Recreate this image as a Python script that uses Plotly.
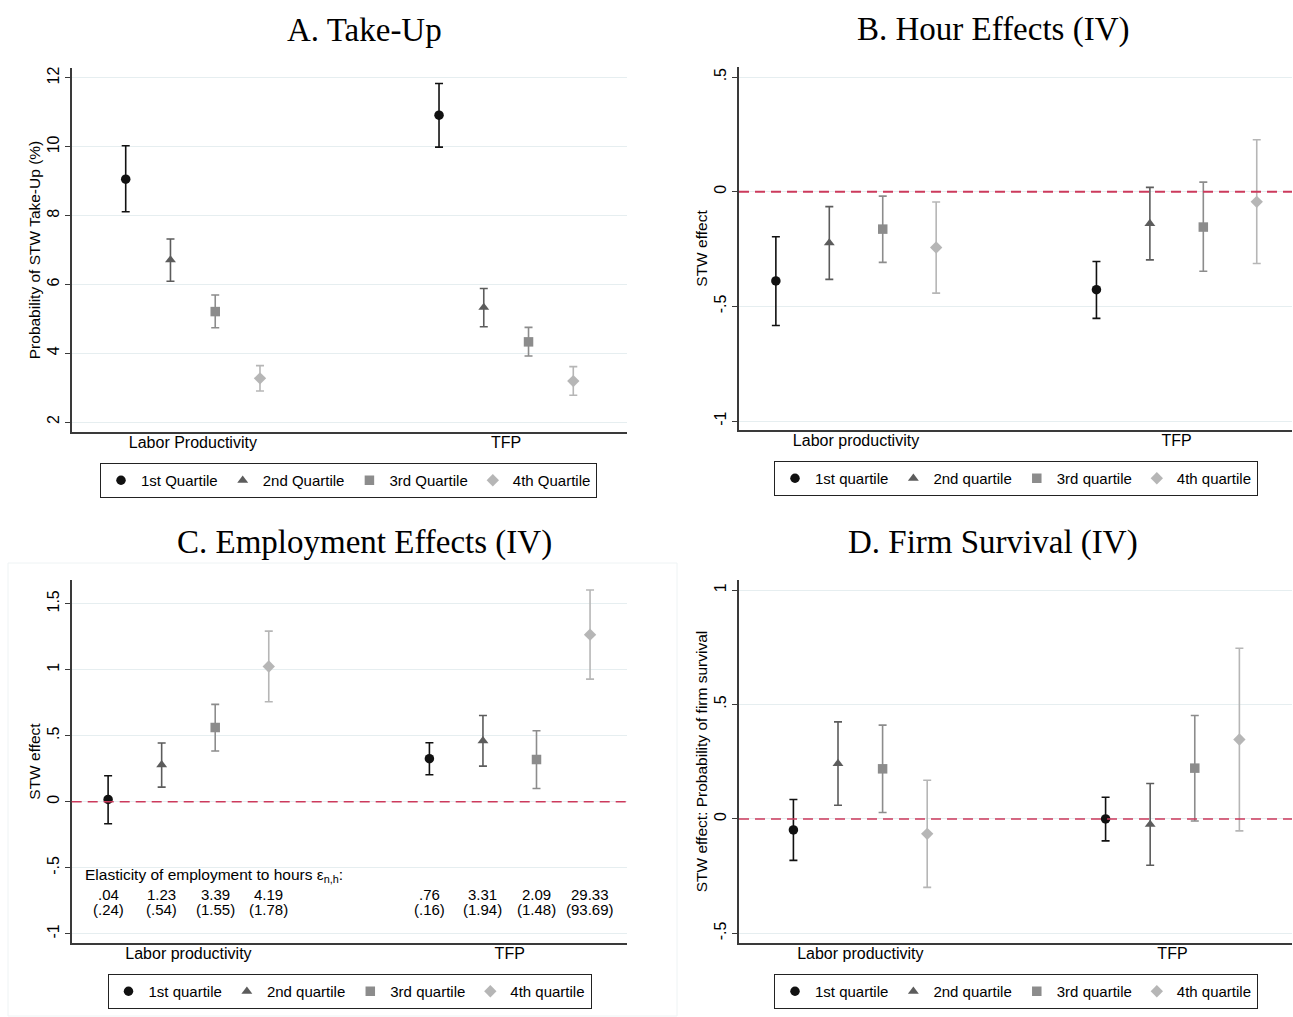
import plotly.graph_objects as go

W, H = 1293, 1017

# ---------------- data ----------------
groups = ["Labor Productivity", "TFP"]
quart_names_cap = ["1st Quartile", "2nd Quartile", "3rd Quartile", "4th Quartile"]
quart_names = ["1st quartile", "2nd quartile", "3rd quartile", "4th quartile"]

# Panel A: Take-Up (%)
a_lp = [9.06, 6.71, 5.21, 3.27]
a_lp_hi = [10.03, 7.32, 5.69, 3.64]
a_lp_lo = [8.11, 6.09, 4.74, 2.90]
a_tfp = [10.92, 5.33, 4.33, 3.19]
a_tfp_hi = [11.84, 5.88, 4.75, 3.61]
a_tfp_lo = [9.99, 4.77, 3.92, 2.78]

# Panel B: Hour effects (IV)
b_lp = [-0.389, -0.223, -0.163, -0.243]
b_lp_hi = [-0.196, -0.065, -0.019, -0.045]
b_lp_lo = [-0.583, -0.382, -0.308, -0.442]
b_tfp = [-0.427, -0.139, -0.154, -0.044]
b_tfp_hi = [-0.304, 0.019, 0.042, 0.227]
b_tfp_lo = [-0.552, -0.297, -0.347, -0.313]

# Panel C: Employment effects (IV)
c_lp = [0.018, 0.280, 0.562, 1.025]
c_lp_hi = [0.197, 0.445, 0.738, 1.293]
c_lp_lo = [-0.167, 0.111, 0.384, 0.758]
c_tfp = [0.326, 0.462, 0.320, 1.266]
c_tfp_hi = [0.447, 0.654, 0.538, 1.604]
c_tfp_lo = [0.205, 0.270, 0.101, 0.929]
elast_lp = [".04", "1.23", "3.39", "4.19"]
elast_lp_se = ["(.24)", "(.54)", "(1.55)", "(1.78)"]
elast_tfp = [".76", "3.31", "2.09", "29.33"]
elast_tfp_se = ["(.16)", "(1.94)", "(1.48)", "(93.69)"]

# Panel D: Firm survival (IV)
d_lp = [-0.048, 0.242, 0.219, -0.065]
d_lp_hi = [0.085, 0.424, 0.410, 0.169]
d_lp_lo = [-0.181, 0.060, 0.028, -0.299]
d_tfp = [0.000, -0.024, 0.222, 0.347]
d_tfp_hi = [0.095, 0.155, 0.452, 0.746]
d_tfp_lo = [-0.096, -0.202, -0.009, -0.052]

# ---------------- style ----------------
symbols = ["circle", "triangle-up", "square", "diamond"]
colors = ["#111111", "#5c5c5c", "#8c8c8c", "#b6b6b6"]
SANS = "Liberation Sans, Arial, Helvetica, sans-serif"
SERIF = "Liberation Serif, Times New Roman, serif"
GRID = "#e6eef0"
AXIS = "#3a3a3a"
REF = "#cc3a5c"


def px(x):
    return x / W


def py(y):
    return 1 - y / H


panels = [
    dict(ax="", lp=(a_lp, a_lp_hi, a_lp_lo), tfp=(a_tfp, a_tfp_hi, a_tfp_lo), off=7,
         xd=(72, 627), yd=(68, 432), xr=[-0.2, 12.2], yr=[1.71, 12.29],
         tv=[2, 4, 6, 8, 10, 12], tt=["2", "4", "6", "8", "10", "12"],
         ytitle="Probability of STW Take-Up (%)", names=quart_names_cap,
         glabels=["Labor Productivity", "TFP"], ref=False, legend="legend",
         leg=(348.5, 463), title="A. Take-Up", tpos=(364, 30)),
    dict(ax="2", lp=(b_lp, b_lp_hi, b_lp_lo), tfp=(b_tfp, b_tfp_hi, b_tfp_lo), off=6,
         xd=(739, 1292), yd=(67, 430), xr=[0.31, 10.66], yr=[-1.039, 0.544],
         tv=[-1, -0.5, 0, 0.5], tt=["-1", "-.5", "0", ".5"],
         ytitle="STW effect", names=quart_names,
         glabels=["Labor productivity", "TFP"], ref=True, legend="legend2",
         leg=(1016, 461), title="B. Hour Effects (IV)", tpos=(993, 30)),
    dict(ax="3", lp=(c_lp, c_lp_hi, c_lp_lo), tfp=(c_tfp, c_tfp_hi, c_tfp_lo), off=6,
         xd=(71.7, 627), yd=(580, 943), xr=[0.32, 10.69], yr=[-1.07, 1.68],
         tv=[-1, -0.5, 0, 0.5, 1, 1.5], tt=["-1", "-.5", "0", ".5", "1", "1.5"],
         ytitle="STW effect", names=quart_names,
         glabels=["Labor productivity", "TFP"], ref=True, legend="legend3",
         leg=(349.5, 974), title="C. Employment Effects (IV)", tpos=(364, 542)),
    dict(ax="4", lp=(d_lp, d_lp_hi, d_lp_lo), tfp=(d_tfp, d_tfp_hi, d_tfp_lo), off=7,
         xd=(739, 1292), yd=(580, 943), xr=[-0.22, 12.18], yr=[-0.542, 1.044],
         tv=[-0.5, 0, 0.5, 1], tt=["-.5", "0", ".5", "1"],
         ytitle="STW effect: Probability of firm survival", names=quart_names,
         glabels=["Labor productivity", "TFP"], ref=True, legend="legend4",
         leg=(1016, 974), title="D. Firm Survival (IV)", tpos=(993, 542)),
]

fig = go.Figure()
layout = dict(
    width=W, height=H, autosize=False,
    margin=dict(l=0, r=0, t=0, b=0),
    paper_bgcolor="white", plot_bgcolor="white",
    showlegend=True,
    shapes=[], annotations=[],
    font=dict(family=SANS, size=15.5, color="black"),
)

for p in panels:
    ax = p["ax"]
    xref = "x" + ax
    yref = "y" + ax
    lp_x = [1, 2, 3, 4]
    tfp_x = [1 + p["off"] + i for i in range(4)]
    for q in range(4):
        ys = [p["lp"][0][q], p["tfp"][0][q]]
        his = [p["lp"][1][q], p["tfp"][1][q]]
        los = [p["lp"][2][q], p["tfp"][2][q]]
        fig.add_trace(go.Scatter(
            x=[lp_x[q], tfp_x[q]], y=ys, mode="markers",
            name=p["names"][q], legend=p["legend"],
            xaxis=xref, yaxis=yref,
            marker=dict(symbol=symbols[q], color=colors[q], size=9.5,
                        line=dict(width=0)),
            error_y=dict(type="data", symmetric=False,
                         array=[h - v for h, v in zip(his, ys)],
                         arrayminus=[v - l for v, l in zip(ys, los)],
                         color=colors[q], thickness=1.6, width=4),
            hoverinfo="x+y",
        ))
    xa = "xaxis" + ax
    ya = "yaxis" + ax
    layout[xa] = dict(
        domain=[px(p["xd"][0]), px(p["xd"][1])], range=p["xr"], anchor=yref,
        showgrid=False, zeroline=False, showline=True, linecolor=AXIS, linewidth=1.5,
        tickmode="array", tickvals=[2.5, 2.5 + p["off"]], ticktext=p["glabels"],
        ticks="", ticklabelstandoff=-5,
        tickfont=dict(size=16, family=SANS, color="black"),
        fixedrange=True,
    )
    layout[ya] = dict(
        domain=[py(p["yd"][1]), py(p["yd"][0])], range=p["yr"], anchor=xref,
        showgrid=True, gridcolor=GRID, gridwidth=1.2, zeroline=False,
        showline=True, linecolor=AXIS, linewidth=1.5,
        tickmode="array", tickvals=p["tv"], ticktext=p["tt"],
        ticks="outside", ticklen=5, tickcolor=AXIS, tickwidth=1.2, tickangle=-90,
        tickfont=dict(size=16, family=SANS, color="black"),
        title=dict(text=p["ytitle"], font=dict(size=15.5, family=SANS, color="black"),
                   standoff=0),
        fixedrange=True,
    )
    if p["ref"]:
        layout["shapes"].append(dict(
            type="line", xref=xref + " domain", yref=yref, x0=0, x1=1, y0=0, y1=0,
            line=dict(color=REF, width=1.8 if ax == "2" else 1.5, dash="10px,6px"),
        ))
    layout[p["legend"]] = dict(
        orientation="h", x=px(p["leg"][0]), xanchor="center",
        y=py(p["leg"][1]), yanchor="top",
        bordercolor="#222", borderwidth=1, bgcolor="white",
        font=dict(size=15, family=SANS, color="black"),
        itemwidth=30, tracegroupgap=0,
    )
    layout["annotations"].append(dict(
        text=p["title"], xref="paper", yref="paper",
        x=px(p["tpos"][0]), y=py(p["tpos"][1]), xanchor="center", yanchor="middle",
        showarrow=False, font=dict(family=SERIF, size=33, color="black"),
    ))

# Panel C elasticity annotations
layout["annotations"].append(dict(
    text="Elasticity of employment to hours ε<sub>n,h</sub>:", xref="x3", yref="y3",
    x=0.53, y=-0.555, xanchor="left", yanchor="middle", showarrow=False,
    font=dict(family=SANS, size=15.5, color="black"),
))
c_lp_x = [1, 2, 3, 4]
c_tfp_x = [7, 8, 9, 10]
for xs, top, bot in [(c_lp_x, elast_lp, elast_lp_se), (c_tfp_x, elast_tfp, elast_tfp_se)]:
    for xv, t, b in zip(xs, top, bot):
        layout["annotations"].append(dict(
            text=t, xref="x3", yref="y3", x=xv, y=-0.70, xanchor="center",
            yanchor="middle", showarrow=False,
            font=dict(family=SANS, size=15, color="black")))
        layout["annotations"].append(dict(
            text=b, xref="x3", yref="y3", x=xv, y=-0.815, xanchor="center",
            yanchor="middle", showarrow=False,
            font=dict(family=SANS, size=15, color="black")))

# faint graph-region frame around panel C
layout["shapes"].append(dict(
    type="rect", xref="paper", yref="paper", x0=px(8), x1=px(677), y0=py(1016), y1=py(563),
    line=dict(color="#eef3f4", width=1), fillcolor="rgba(0,0,0,0)", layer="below",
))

fig.update_layout(**layout)
fig.write_html("out.html")
